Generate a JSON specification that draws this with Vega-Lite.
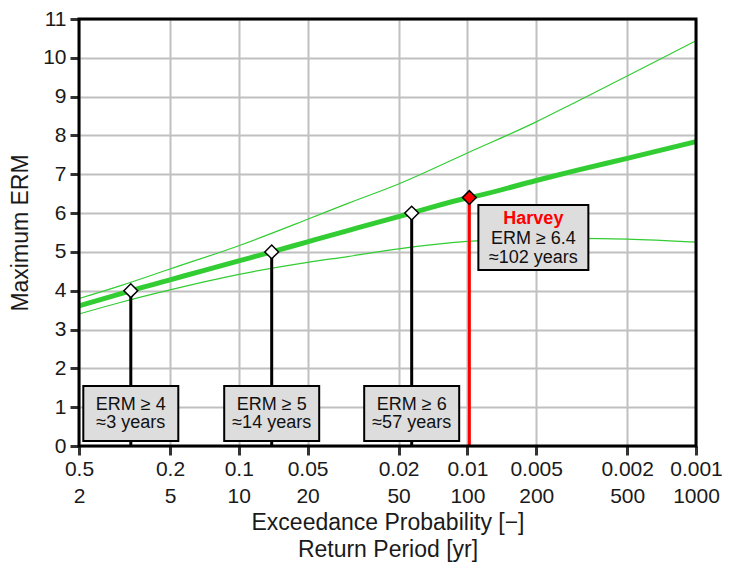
{
  "$schema": "https://vega.github.io/schema/vega-lite/v6.json",
  "width": 617,
  "height": 427,
  "autosize": "none",
  "padding": {"left": 79, "top": 19, "right": 41, "bottom": 118},
  "background": "white",
  "config": {
    "font": "Liberation Sans",
    "view": {"stroke": null},
    "axis": {
      "gridColor": "#c0c0c0",
      "gridWidth": 2,
      "gridOpacity": 1,
      "domain": false,
      "tickColor": "#333333",
      "tickWidth": 3,
      "tickSize": 9,
      "labelFontSize": 21,
      "labelColor": "#1a1a1a",
      "labelOverlap": false,
      "titleFontSize": 23,
      "titleFontWeight": "normal",
      "titleColor": "#1a1a1a"
    },
    "axisY": {"tickCount": 12, "labelOverlap": false}
  },
  "datasets": {
    "curves": [
      {"T": 2, "erm": 3.61, "series": "central"},
      {"T": 3, "erm": 3.91, "series": "central"},
      {"T": 3.37, "erm": 4.0, "series": "central"},
      {"T": 5, "erm": 4.28, "series": "central"},
      {"T": 7, "erm": 4.52, "series": "central"},
      {"T": 10, "erm": 4.77, "series": "central"},
      {"T": 13.93, "erm": 5.0, "series": "central"},
      {"T": 20, "erm": 5.26, "series": "central"},
      {"T": 30, "erm": 5.55, "series": "central"},
      {"T": 50, "erm": 5.91, "series": "central"},
      {"T": 57.06, "erm": 6.0, "series": "central"},
      {"T": 100, "erm": 6.39, "series": "central"},
      {"T": 102, "erm": 6.4, "series": "central"},
      {"T": 200, "erm": 6.84, "series": "central"},
      {"T": 300, "erm": 7.1, "series": "central"},
      {"T": 500, "erm": 7.41, "series": "central"},
      {"T": 1000, "erm": 7.84, "series": "central"},
      {"T": 2, "erm": 3.8, "series": "upper"},
      {"T": 3, "erm": 4.12, "series": "upper"},
      {"T": 5, "erm": 4.56, "series": "upper"},
      {"T": 10, "erm": 5.16, "series": "upper"},
      {"T": 20, "erm": 5.84, "series": "upper"},
      {"T": 30, "erm": 6.25, "series": "upper"},
      {"T": 50, "erm": 6.75, "series": "upper"},
      {"T": 100, "erm": 7.55, "series": "upper"},
      {"T": 200, "erm": 8.35, "series": "upper"},
      {"T": 300, "erm": 8.87, "series": "upper"},
      {"T": 500, "erm": 9.53, "series": "upper"},
      {"T": 1000, "erm": 10.44, "series": "upper"},
      {"T": 2, "erm": 3.4, "series": "lower"},
      {"T": 3, "erm": 3.69, "series": "lower"},
      {"T": 5, "erm": 4.02, "series": "lower"},
      {"T": 10, "erm": 4.42, "series": "lower"},
      {"T": 20, "erm": 4.73, "series": "lower"},
      {"T": 30, "erm": 4.88, "series": "lower"},
      {"T": 50, "erm": 5.08, "series": "lower"},
      {"T": 100, "erm": 5.27, "series": "lower"},
      {"T": 200, "erm": 5.34, "series": "lower"},
      {"T": 300, "erm": 5.35, "series": "lower"},
      {"T": 500, "erm": 5.33, "series": "lower"},
      {"T": 1000, "erm": 5.25, "series": "lower"}
    ],
    "events": [
      {"T": 3.37, "erm": 4, "kind": "threshold", "label": "ERM ≥ 4\n≈3 years"},
      {"T": 13.93, "erm": 5, "kind": "threshold", "label": "ERM ≥ 5\n≈14 years"},
      {"T": 57.06, "erm": 6, "kind": "threshold", "label": "ERM ≥ 6\n≈57 years"},
      {"T": 102, "erm": 6.4, "kind": "Harvey", "name": "Harvey", "label": "ERM ≥ 6.4\n≈102 years"}
    ]
  },
  "layer": [
    {
      "data": {"name": "curves"},
      "transform": [{"filter": "datum.series != 'central'"}],
      "mark": {"type": "line", "color": "#32cd32", "strokeWidth": 1.2, "interpolate": "monotone"},
      "encoding": {
        "x": {
          "field": "T",
          "type": "quantitative",
          "scale": {"type": "log", "domain": [2, 1000], "nice": false},
          "axis": {
            "values": [2, 5, 10, 20, 50, 100, 200, 500, 1000],
            "labelExpr": "['' + (1 / datum.value), '' + datum.value]",
            "labelLineHeight": 27,
            "labelOverlap": false,
            "labelFlush": false,
            "labelPadding": 3,
            "title": ["Exceedance Probability [−]", "Return Period [yr]"],
            "titleLineHeight": 27,
            "titlePadding": 5
          }
        },
        "y": {
          "field": "erm",
          "type": "quantitative",
          "scale": {"domain": [0, 11], "nice": false, "zero": false},
          "axis": {
            "values": [0, 1, 2, 3, 4, 5, 6, 7, 8, 9, 10, 11],
            "title": "Maximum ERM",
            "labelPadding": 4,
            "titlePadding": 10
          }
        },
        "detail": {"field": "series"}
      }
    },
    {
      "data": {"name": "curves"},
      "transform": [{"filter": "datum.series == 'central'"}],
      "mark": {"type": "line", "color": "#32cd32", "strokeWidth": 5, "interpolate": "monotone"},
      "encoding": {
        "x": {"field": "T", "type": "quantitative"},
        "y": {"field": "erm", "type": "quantitative"}
      }
    },
    {
      "data": {"name": "events"},
      "mark": {"type": "rule", "strokeWidth": 3},
      "encoding": {
        "x": {"field": "T", "type": "quantitative"},
        "y": {"field": "erm", "type": "quantitative"},
        "y2": {"datum": 0},
        "stroke": {"field": "kind", "type": "nominal", "scale": {"domain": ["threshold", "Harvey"], "range": ["#000000", "#ff0000"]}, "legend": null}
      }
    },
    {
      "data": {"name": "events"},
      "transform": [{"filter": "datum.kind == 'threshold'"}],
      "mark": {"type": "rect", "fill": "#dddddd", "stroke": "#000000", "strokeWidth": 2, "xOffset": -47.5, "x2Offset": 47.5, "yOffset": -60, "y2Offset": -5},
      "encoding": {
        "x": {"field": "T", "type": "quantitative"},
        "x2": {"field": "T"},
        "y": {"datum": 0, "type": "quantitative"},
        "y2": {"datum": 0}
      }
    },
    {
      "data": {"name": "events"},
      "transform": [{"filter": "datum.kind == 'threshold'"}],
      "mark": {"type": "text", "fontSize": 18, "lineHeight": 18.5, "lineBreak": "\n", "align": "center", "baseline": "middle", "color": "#111111", "yOffset": -41.5},
      "encoding": {
        "x": {"field": "T", "type": "quantitative"},
        "y": {"datum": 0, "type": "quantitative"},
        "text": {"field": "label"}
      }
    },
    {
      "data": {"name": "events"},
      "transform": [{"filter": "datum.kind == 'Harvey'"}],
      "mark": {"type": "rect", "fill": "#dddddd", "stroke": "#000000", "strokeWidth": 2, "xOffset": 9, "x2Offset": 119, "yOffset": 7.5, "y2Offset": 72.5},
      "encoding": {
        "x": {"field": "T", "type": "quantitative"},
        "x2": {"field": "T"},
        "y": {"field": "erm", "type": "quantitative"},
        "y2": {"field": "erm"}
      }
    },
    {
      "data": {"name": "events"},
      "transform": [{"filter": "datum.kind == 'Harvey'"}],
      "mark": {"type": "text", "fontSize": 18, "fontWeight": "bold", "align": "center", "baseline": "middle", "color": "#ff0000", "xOffset": 64, "yOffset": 21},
      "encoding": {
        "x": {"field": "T", "type": "quantitative"},
        "y": {"field": "erm", "type": "quantitative"},
        "text": {"field": "name"}
      }
    },
    {
      "data": {"name": "events"},
      "transform": [{"filter": "datum.kind == 'Harvey'"}],
      "mark": {"type": "text", "fontSize": 18, "lineHeight": 19, "lineBreak": "\n", "align": "center", "baseline": "middle", "color": "#111111", "xOffset": 64, "yOffset": 41.5},
      "encoding": {
        "x": {"field": "T", "type": "quantitative"},
        "y": {"field": "erm", "type": "quantitative"},
        "text": {"field": "label"}
      }
    },
    {
      "data": {"name": "events"},
      "mark": {"type": "point", "shape": "diamond", "size": 190, "filled": true, "stroke": "#000000", "strokeWidth": 1.5, "opacity": 1},
      "encoding": {
        "x": {"field": "T", "type": "quantitative"},
        "y": {"field": "erm", "type": "quantitative"},
        "fill": {"field": "kind", "type": "nominal", "scale": {"domain": ["threshold", "Harvey"], "range": ["#ffffff", "#ff0000"]}, "legend": null}
      }
    },
    {
      "data": {"values": [{}]},
      "mark": {"type": "rect", "filled": false, "fill": null, "stroke": "#000000", "strokeWidth": 3},
      "encoding": {
        "x": {"datum": 2, "type": "quantitative"},
        "x2": {"datum": 1000},
        "y": {"datum": 0, "type": "quantitative"},
        "y2": {"datum": 11}
      }
    }
  ]
}
